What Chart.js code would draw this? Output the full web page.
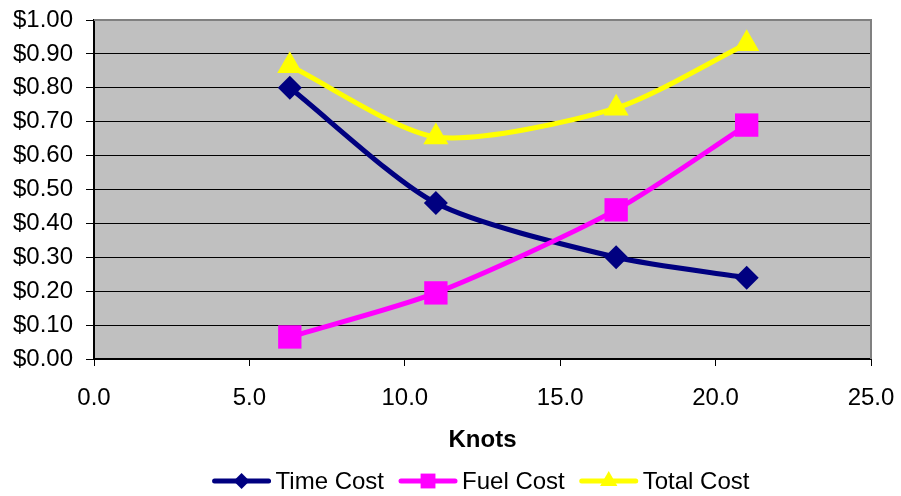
<!DOCTYPE html>
<html>
<head>
<meta charset="utf-8">
<script src="https://cdn.jsdelivr.net/npm/chart.js@4.4.1/dist/chart.umd.min.js"></script>
<style>
  html, body { margin: 0; padding: 0; background: #fff; }
  #wrap { width: 901px; height: 496px; }
</style>
</head>
<body>
<div id="wrap"><canvas id="c" width="901" height="496"></canvas></div>
<script>
// ---- data ----
const knots = [6.3, 11.0, 16.8, 21.0];
const timeCost = [0.80, 0.46, 0.30, 0.24];
const fuelCost = [0.065, 0.195, 0.44, 0.69];
const totalCost = [0.865, 0.655, 0.74, 0.93];
const seriesNames = ['Time Cost', 'Fuel Cost', 'Total Cost'];
const xTitle = 'Knots';

const FONT = '"Liberation Sans", Arial, sans-serif';

function pts(vals) { return knots.map((k, i) => ({ x: k, y: vals[i] })); }

const plotBg = {
  id: 'plotBg',
  beforeDraw(chart) {
    const { ctx, chartArea: a } = chart;
    ctx.save();
    ctx.fillStyle = '#C0C0C0';
    ctx.fillRect(a.left, a.top, a.right - a.left, a.bottom - a.top);
    ctx.restore();
  },
  beforeDatasetsDraw(chart) {
    const { ctx, chartArea: a } = chart;
    ctx.save();
    ctx.strokeStyle = '#808080';
    ctx.lineWidth = 2;
    ctx.beginPath();
    ctx.moveTo(a.left, a.top);
    ctx.lineTo(a.right, a.top);
    ctx.lineTo(a.right, a.bottom);
    ctx.stroke();
    ctx.restore();
  }
};

function drawMarker(ctx, style, x, y, r) {
  ctx.beginPath();
  if (style === 'rectRot') {
    ctx.moveTo(x - r, y); ctx.lineTo(x, y - r); ctx.lineTo(x + r, y); ctx.lineTo(x, y + r);
  } else if (style === 'rect') {
    const s = r * Math.SQRT1_2;
    ctx.rect(x - s, y - s, 2 * s, 2 * s);
  } else if (style === 'triangle') {
    let a = 0;
    ctx.moveTo(x + Math.sin(a) * r, y - Math.cos(a) * r);
    a += 2 * Math.PI / 3;
    ctx.lineTo(x + Math.sin(a) * r, y - Math.cos(a) * r);
    a += 2 * Math.PI / 3;
    ctx.lineTo(x + Math.sin(a) * r, y - Math.cos(a) * r);
  }
  ctx.closePath();
  ctx.fill();
}

const customLegend = {
  id: 'customLegend',
  afterDraw(chart) {
    const { ctx, chartArea: a } = chart;
    const ds = chart.data.datasets;
    ctx.save();
    ctx.font = '24px ' + FONT;
    const lineLen = 58, gapText = 5, gapItem = 15;
    const widths = ds.map(d => ctx.measureText(d.label).width);
    let total = 0;
    widths.forEach((w, i) => { total += lineLen + gapText + w + (i < ds.length - 1 ? gapItem : 0); });
    let x = (a.left + a.right) / 2 - 1.5 - total / 2;
    const y = 481;
    ds.forEach((d, i) => {
      ctx.strokeStyle = d.borderColor;
      ctx.lineWidth = 5;
      ctx.lineCap = 'round';
      ctx.beginPath();
      ctx.moveTo(x + 2, y);
      ctx.lineTo(x + lineLen - 2, y);
      ctx.stroke();
      ctx.fillStyle = d.pointBackgroundColor;
      const r = d.pointStyle === 'rect' ? 10.5 : (d.pointStyle === 'triangle' ? 10 : 8);
      drawMarker(ctx, d.pointStyle, x + lineLen / 2, y, r);
      ctx.fillStyle = '#000';
      ctx.textBaseline = 'middle';
      ctx.textAlign = 'left';
      ctx.fillText(d.label, x + lineLen + gapText, y + 1);
      x += lineLen + gapText + widths[i] + gapItem;
    });
    ctx.restore();
  }
};

const common = {
  showLine: true,
  borderWidth: 5,
  tension: 0.25,
  borderCapStyle: 'round',
  borderJoinStyle: 'round',
  pointBorderWidth: 0,
  pointHoverRadius: 12,
  fill: false
};

new Chart(document.getElementById('c'), {
  type: 'scatter',
  data: {
    datasets: [
      Object.assign({}, common, {
        label: seriesNames[0], data: pts(timeCost), order: 3,
        borderColor: '#000080', backgroundColor: '#000080', pointBackgroundColor: '#000080', pointBorderColor: '#000080',
        pointStyle: 'rectRot', pointRadius: 12
      }),
      Object.assign({}, common, {
        label: seriesNames[1], data: pts(fuelCost), order: 2,
        borderColor: '#FF00FF', backgroundColor: '#FF00FF', pointBackgroundColor: '#FF00FF', pointBorderColor: '#FF00FF',
        pointStyle: 'rect', pointRadius: 16.5
      }),
      Object.assign({}, common, {
        label: seriesNames[2], data: pts(totalCost), order: 1,
        borderColor: '#FFFF00', backgroundColor: '#FFFF00', pointBackgroundColor: '#FFFF00', pointBorderColor: '#FFFF00',
        pointStyle: 'triangle', pointRadius: 14.5
      })
    ]
  },
  options: {
    responsive: false,
    animation: false,
    layout: { padding: { left: 0, right: 30, top: 20, bottom: 0 } },
    plugins: {
      legend: { display: false },
      tooltip: { enabled: false },
      title: { display: false }
    },
    scales: {
      x: {
        type: 'linear',
        min: 0, max: 25,
        ticks: {
          stepSize: 5,
          padding: 18,
          color: '#000',
          font: { family: FONT, size: 24 },
          callback: v => Number(v).toFixed(1),
          maxRotation: 0
        },
        grid: { display: true, drawOnChartArea: false, color: '#000', lineWidth: 1, tickLength: 7, tickWidth: 1 },
        border: { display: true, color: '#000', width: 2 },
        title: {
          display: true, text: xTitle, color: '#000',
          font: { family: FONT, size: 24, weight: 'bold' },
          padding: { top: 0, bottom: 41 }
        },
        afterFit(scale) { scale.height = 137; scale.paddingLeft = 0; scale.paddingRight = 0; }
      },
      y: {
        type: 'linear',
        min: 0, max: 1,
        ticks: {
          stepSize: 0.1,
          padding: 13,
          color: '#000',
          font: { family: FONT, size: 24 },
          callback: v => '$' + Number(v).toFixed(2)
        },
        grid: { color: '#000', lineWidth: 1, tickLength: 8 },
        border: { display: true, color: '#000', width: 2 },
        afterFit(scale) { scale.width = 94; scale.paddingTop = 0; scale.paddingBottom = 0; }
      }
    }
  },
  plugins: [plotBg, customLegend]
});
</script>
</body>
</html>
